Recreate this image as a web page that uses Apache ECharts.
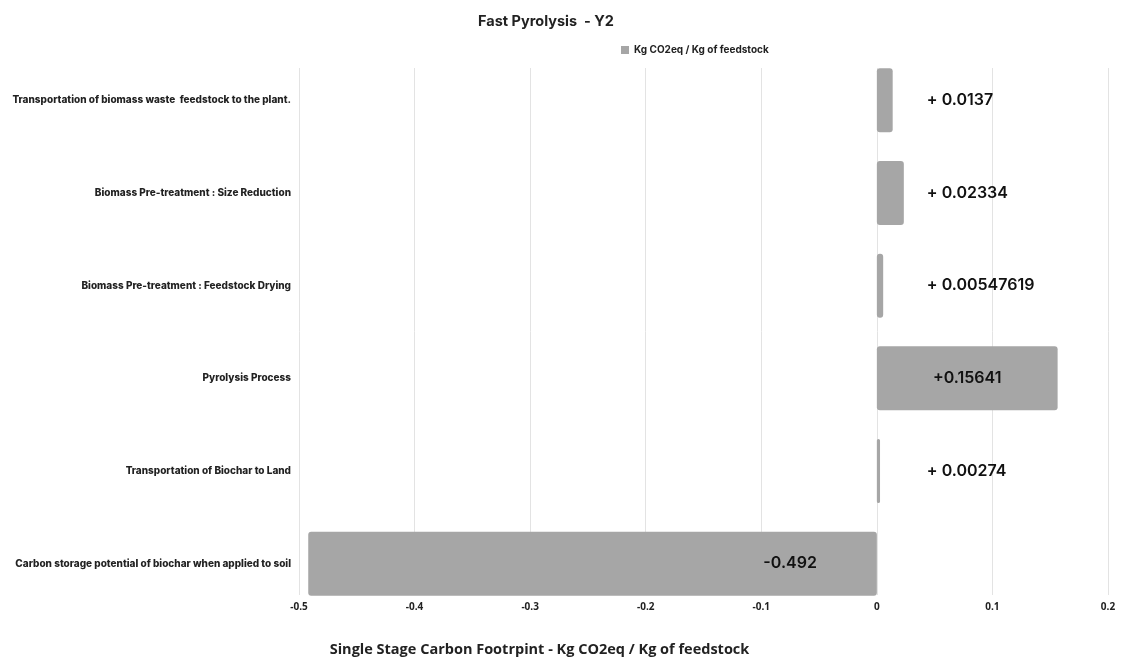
<!DOCTYPE html>
<html>
<head>
<meta charset="utf-8">
<script src="https://cdn.jsdelivr.net/npm/echarts@6/dist/echarts.min.js"></script>
<style>
  html, body { margin: 0; padding: 0; background: #ffffff; }
  #chart { width: 1124px; height: 657px; }
</style>
</head>
<body>
<div id="chart"></div>
<script>
// Life-cycle stages, top to bottom
const stages = [
  'Transportation of biomass waste  feedstock to the plant.',
  'Biomass Pre-treatment : Size Reduction',
  'Biomass Pre-treatment : Feedstock Drying',
  'Pyrolysis Process',
  'Transportation of Biochar to Land',
  'Carbon storage potential of biochar when applied to soil'
];
// Kg CO2eq per Kg of feedstock for each stage
const footprint = [0.0137, 0.02334, 0.00547619, 0.15641, 0.00274, -0.492];
// Text printed beside each bar
const valueLabels = ['+ 0.0137', '+ 0.02334', '+ 0.00547619', '+0.15641', '+ 0.00274', '-0.492'];
// Axis ticks
const xTicks = [-0.5, -0.4, -0.3, -0.2, -0.1, 0, 0.1, 0.2];
const xMin = -0.5, xMax = 0.2, xStep = 0.1;

const labelFont = { fontFamily: 'Inter, "Noto Sans", sans-serif', fontSize: 16, fontWeight: 600, color: '#111' };

const barData = footprint.map((v, i) => {
  let label;
  if (v < 0) {
    label = Object.assign({ show: true, position: 'insideRight', distance: 60, formatter: valueLabels[i] }, labelFont);
  } else if (v > 0.1) {
    label = Object.assign({ show: true, position: 'inside', formatter: valueLabels[i] }, labelFont);
  } else {
    label = Object.assign({ show: true, position: [50, '50%'], verticalAlign: 'middle', align: 'left', formatter: valueLabels[i] }, labelFont);
  }
  return { value: v, label: label };
});

const chart = echarts.init(document.getElementById('chart'));
chart.setOption({
  animation: false,
  title: {
    text: 'Fast Pyrolysis  - Y2',
    left: 541, top: 9, textAlign: 'center',
    textStyle: { fontFamily: 'Inter, Roboto, sans-serif', fontSize: 14.5, fontWeight: 700, color: '#222' }
  },
  legend: {
    data: ['Kg CO2eq / Kg of feedstock'],
    left: 616, top: 40,
    itemWidth: 8, itemHeight: 8, itemGap: 6,
    icon: 'rect',
    textStyle: { fontFamily: 'Inter, Roboto, sans-serif', fontSize: 10, fontWeight: 700, color: '#222' }
  },
  grid: [
    // frame for gridlines, tick labels and axis title
    { left: 299, right: 16, top: 68, bottom: 62, containLabel: false, outerBoundsMode: 'none' },
    // frame for the bars and stage names
    { left: 299, right: 16, top: 54, bottom: 47, containLabel: false, outerBoundsMode: 'none' }
  ],
  xAxis: [{
    gridIndex: 0,
    type: 'value',
    min: xMin, max: xMax, interval: xStep,
    name: 'Single Stage Carbon Footrpint - Kg CO2eq / Kg of feedstock',
    nameLocation: 'middle', nameGap: 47,
    nameTextStyle: { fontFamily: '"Open Sans", sans-serif', fontSize: 14.5, fontWeight: 700, color: '#222', padding: [0, 328, 0, 0] },
    axisLine: { show: false },
    axisTick: { show: false },
    axisLabel: {
      fontFamily: '"Open Sans", sans-serif', fontSize: 10, fontWeight: 700, color: '#222', margin: 7,
      formatter: v => {
        const t = xTicks.find(x => Math.abs(x - v) < 1e-9);
        return String(t === undefined ? v : t);
      }
    },
    splitLine: { show: true, lineStyle: { color: '#e3e3e3', width: 1 } }
  }, {
    gridIndex: 1,
    type: 'value',
    min: xMin, max: xMax, interval: xStep,
    show: false
  }],
  yAxis: [{
    gridIndex: 0,
    type: 'category',
    data: stages,
    show: false
  }, {
    gridIndex: 1,
    type: 'category',
    data: stages,
    inverse: true,
    axisLine: { show: false },
    axisTick: { show: false },
    splitLine: { show: false },
    axisLabel: { fontFamily: 'Inter, Roboto, sans-serif', fontSize: 10, fontWeight: 800, color: '#222', margin: 8 }
  }],
  series: [{
    name: 'Kg CO2eq / Kg of feedstock',
    type: 'bar',
    xAxisIndex: 1,
    yAxisIndex: 1,
    data: barData,
    barWidth: '69%',
    itemStyle: { color: '#a6a6a6', borderRadius: 3 }
  }]
});
</script>
</body>
</html>
